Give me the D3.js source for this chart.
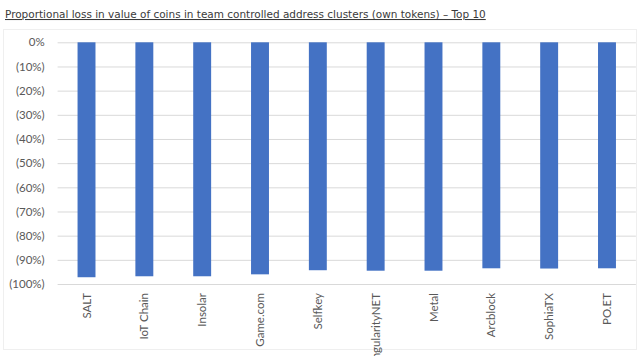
<!DOCTYPE html>
<html><head><meta charset="utf-8">
<script src="https://cdn.jsdelivr.net/npm/d3@7"></script>
<style>body{margin:0;background:#fff;} svg{display:block;}</style>
</head><body>
<svg id="c" width="640" height="356"></svg>
<script>
const categories = ["SALT","IoT Chain","Insolar","Game.com","Selfkey","SingularityNET","Metal","Arcblock","SophiaTX","PO.ET"];
const lossValues = [-0.972,-0.968,-0.968,-0.960,-0.943,-0.945,-0.945,-0.935,-0.936,-0.935];
const tickValues = [0,-0.1,-0.2,-0.3,-0.4,-0.5,-0.6,-0.7,-0.8,-0.9,-1.0];
const titleText = "Proportional loss in value of coins in team controlled address clusters (own tokens) \u2013 Top 10";

const svg = d3.select("#c");
svg.append("rect").attr("x",3.5).attr("y",29.5).attr("width",633).attr("height",320)
  .attr("fill","none").attr("stroke","#efefef");

const title = svg.append("text").attr("x",5).attr("y",18)
  .attr("font-family","DejaVu Sans, Verdana, sans-serif").attr("font-size",12.5)
  .attr("fill","#3a3a3a").attr("text-decoration","underline").text(titleText);
const tl = title.node().getComputedTextLength();
title.attr("font-size", 12.5*481/tl);

const x = d3.scaleBand().domain(categories).range([57.6,635.9]).paddingInner(0.69).paddingOuter(0.345);
const y = d3.scaleLinear().domain([-1,0]).range([284,42.3]);

const fmt = v => v===0 ? "0%" : "(" + Math.round(Math.abs(v)*100) + "%)";

const gy = svg.append("g").attr("transform","translate(57.6,0)")
  .call(d3.axisLeft(y).tickValues(tickValues).tickFormat(fmt).tickSize(-(635.9-57.6)).tickPadding(13));
gy.select(".domain").remove();
gy.selectAll(".tick line").attr("stroke","#d9d9d9");
gy.selectAll(".tick text").attr("fill","#595959").attr("font-family","Lato, sans-serif").attr("font-size",11.5);

svg.append("g").selectAll("rect").data(categories).join("rect")
  .attr("x",d=>x(d)).attr("width",x.bandwidth())
  .attr("y",y(0)).attr("height",(d,i)=>y(lossValues[i])-y(0))
  .attr("fill","#4472C4");

const gx = svg.append("g").attr("transform","translate(0,284)")
  .call(d3.axisBottom(x).tickSize(0).tickPadding(0));
gx.select(".domain").remove();
gx.selectAll(".tick text")
  .attr("transform","rotate(-90)").attr("text-anchor","end")
  .attr("x",-9).attr("y",0).attr("dy","0.35em").attr("dx",0)
  .attr("fill","#595959").attr("font-family","Lato, sans-serif").attr("font-size",11.5);
</script>
</body></html>
